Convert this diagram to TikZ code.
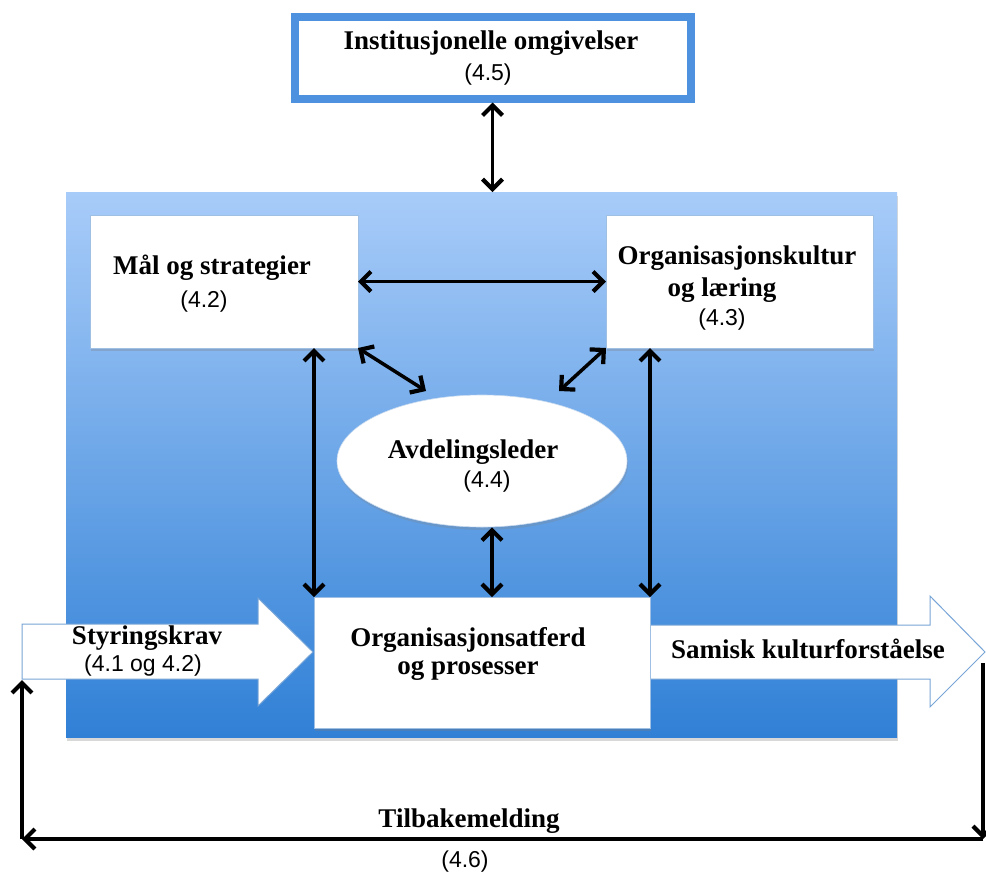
\documentclass[tikz,border=0pt]{standalone}
\usepackage{fontspec}
\setmainfont{Liberation Serif}
\newfontfamily\numfont{Liberation Sans}
\usetikzlibrary{arrows.meta,shapes.geometric,shadows}
\definecolor{bgtop}{RGB}{168,204,249}
\definecolor{bgbot}{RGB}{48,128,214}
\definecolor{frameblue}{RGB}{78,145,222}
\definecolor{edgeblue}{RGB}{120,165,215}
\begin{document}
\begin{tikzpicture}[x=1pt,y=-1pt,
 ttl/.style={font=\bfseries\fontsize{27}{30}\selectfont, inner sep=0pt, align=center},
 num/.style={font=\numfont\fontsize{23}{26}\selectfont, inner sep=0pt},
 wbox/.style={draw=edgeblue!70, line width=0.8pt, fill=white, inner sep=0pt, outer sep=0pt,
   drop shadow={opacity=0.3,shadow xshift=1pt,shadow yshift=-3pt}},
 bigarrow/.style={draw=edgeblue, line width=1pt, fill=white},
 dbl/.style={line width=3.5pt, {Straight Barb[length=10pt,width=20pt,line width=4.2pt]}-{Straight Barb[length=10pt,width=20pt,line width=4.2pt]}},
 sgl/.style={line width=3.5pt, -{Straight Barb[length=10pt,width=20pt,line width=4.2pt]}},
]
\useasboundingbox (0,0) rectangle (986,876);
\fill[white] (0,0) rectangle (986,876);

% big blue background
\node[draw=none, top color=bgtop, bottom color=bgbot, minimum width=831, minimum height=545,
  inner sep=0pt, outer sep=0pt, drop shadow={opacity=0.3,shadow xshift=1pt,shadow yshift=-4pt}] (big) at (481.5,464.5) {};

% top box
\node[draw=frameblue, line width=8pt, fill=white, minimum width=396, minimum height=81.5,
  inner sep=0pt, drop shadow={opacity=0.3,shadow xshift=1pt,shadow yshift=-4pt}] (inst) at (492.5,57.75) {};
\node[ttl] (instT) at (491,43) {Institusjonelle omgivelser};
\node[num] (instN) at (488,75) {(4.5)};

% upper boxes
\node[wbox, minimum width=268, minimum height=133] (mal) at (224,281.5) {};
\node[ttl] (malT) at (212,268) {Mål og strategier};
\node[num] (malN) at (204,302) {(4.2)};

\node[wbox, minimum width=267, minimum height=133] (org) at (739.5,281.5) {};
\node[ttl] (orgT1) at (737,258) {Organisasjonskultur};
\node[ttl] (orgT2) at (722,290) {og læring};
\node[num] (orgN) at (722,320) {(4.3)};

% ellipse
\node[ellipse, fill=white, draw=edgeblue!40, line width=0.6pt, minimum width=290, minimum height=132,
  inner sep=0pt, drop shadow={opacity=0.25,shadow xshift=1pt,shadow yshift=-3pt}] (ell) at (482,461) {};
\node[ttl] (ellT) at (473,452) {Avdelingsleder};
\node[num] (ellN) at (487,482) {(4.4)};

% big input/output arrows
\draw[bigarrow] (22,624) -- (258,624) -- (258,598) -- (313,652) -- (258,706) -- (258,679) -- (22,679) -- cycle;
\draw[bigarrow] (645,625) -- (930,625) -- (930,596) -- (985,652) -- (930,707) -- (930,679) -- (645,679) -- cycle;
\node[ttl] (styT) at (147,638) {Styringskrav};
\node[num] (styN) at (143,666) {(4.1 og 4.2)};
\node[ttl] (samT) at (808,649) {Samisk kulturforståelse};

% center box
\node[wbox, minimum width=336, minimum height=131] (oap) at (482,662.5) {};
\node[ttl] (oapT1) at (468,640) {Organisasjonsatferd};
\node[ttl] (oapT2) at (468,671) {og prosesser};

% connectors
\draw[dbl] (inst.south) -- (inst.south |- big.north);
\draw[dbl] (mal.east) -- (org.west);
\coordinate (eL) at (426,391);
\coordinate (eR) at (559,391);
\draw[dbl] (mal.south east) -- (eL);
\draw[dbl] (org.south west) -- (eR);
\draw[dbl] (oap.north west |- mal.south) -- (oap.north west);
\draw[dbl] (oap.north east |- org.south) -- (oap.north east);
\draw[dbl] ([xshift=10pt]ell.south) -- ([xshift=10pt]ell.south |- oap.north);

% feedback loop
\coordinate (fbR) at (983,663);
\coordinate (fbRB) at (983,839);
\coordinate (fbLB) at (22,839);
\coordinate (styBL) at (22,680);
\draw[sgl] (fbR) -- (fbRB);
\draw[sgl] (fbRB) -- (fbLB);
\draw[sgl] (fbLB) -- (styBL);
\node[ttl] (fbT) at (469,821) {Tilbakemelding};
\node[num] (fbN) at (465,862) {(4.6)};
\end{tikzpicture}
\end{document}
